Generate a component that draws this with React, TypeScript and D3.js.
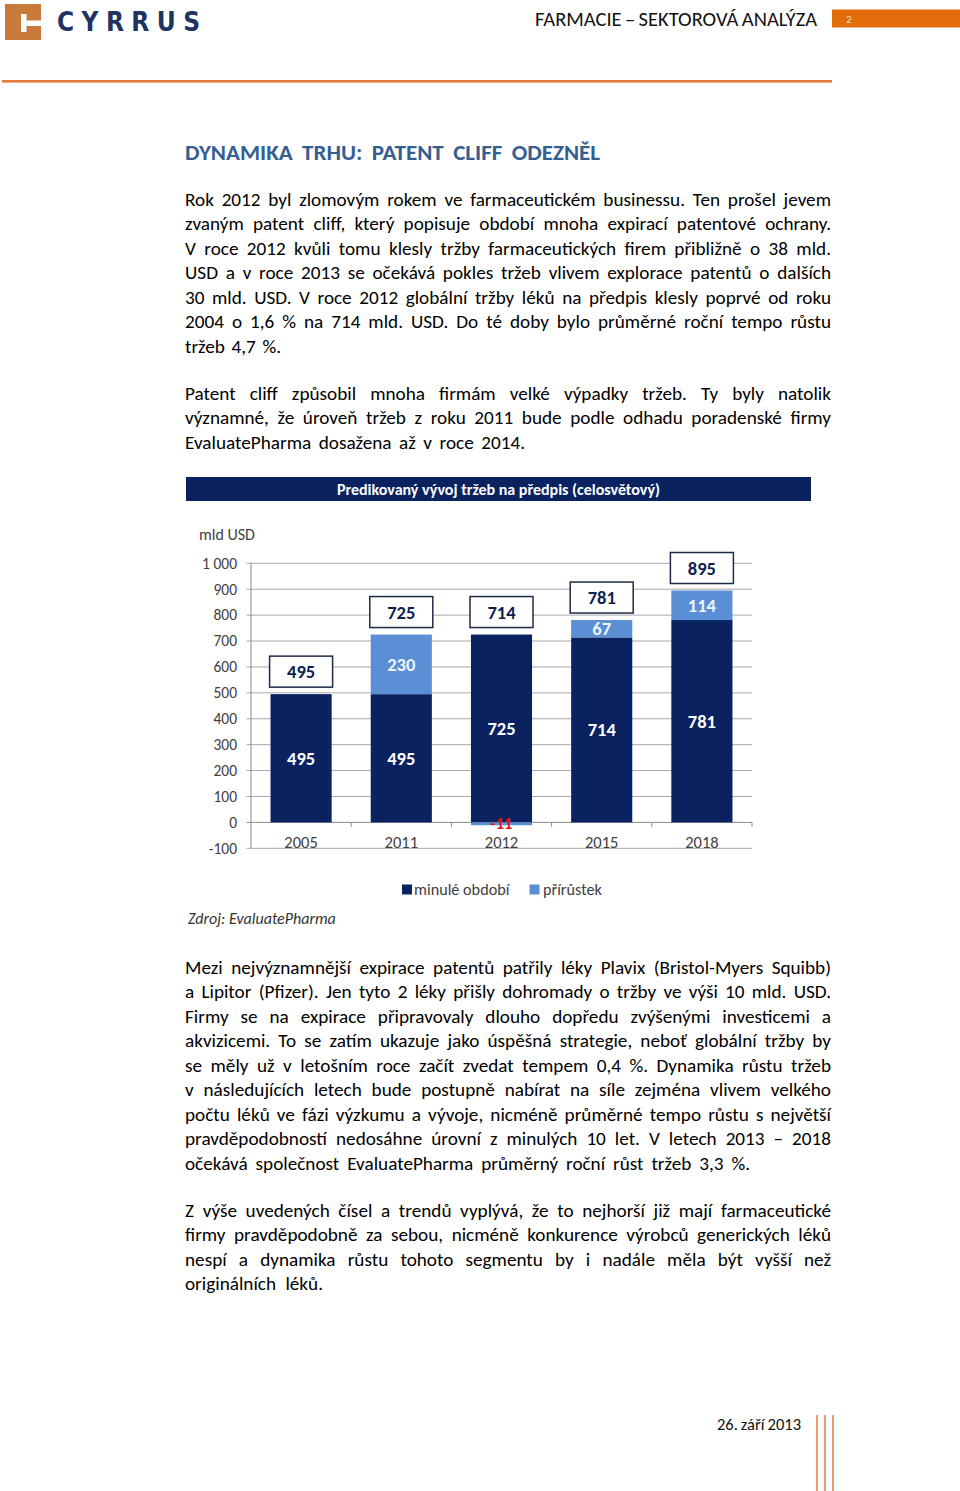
import React, { useLayoutEffect, useRef } from 'react';
import * as d3 from 'd3';

// ---------- chart data ----------
const years = ['2005', '2011', '2012', '2015', '2018'];
const pastValues = [495, 495, 725, 714, 781];
const increments = [0, 230, -11, 67, 114];
const totals = [495, 725, 714, 781, 895];
const yTicks = [-100, 0, 100, 200, 300, 400, 500, 600, 700, 800, 900, 1000];
const legendLabels = ['minulé období', 'přírůstek'];
const chartTitle = 'Predikovaný vývoj tržeb na předpis (celosvětový)';
const unitLabel = 'mld USD';
const sourceLabel = 'Zdroj: EvaluatePharma';

// ---------- page text ----------
const headerTitle = 'FARMACIE – SEKTOROVÁ ANALÝZA';
const pageNumber = '2';
const heading = 'DYNAMIKA TRHU: PATENT CLIFF ODEZNĚL';
const footerDate = '26. září 2013';

const para1 = [
  'Rok 2012 byl zlomovým rokem ve farmaceutickém businessu. Ten prošel jevem',
  'zvaným patent cliff, který popisuje období mnoha expirací patentové ochrany.',
  'V roce 2012 kvůli tomu klesly tržby farmaceutických firem přibližně o 38 mld.',
  'USD a v roce 2013 se očekává pokles tržeb vlivem explorace patentů o dalších',
  '30 mld. USD. V roce 2012 globální tržby léků na předpis klesly poprvé od roku',
  '2004 o 1,6 % na 714 mld. USD. Do té doby bylo průměrné roční tempo růstu',
  'tržeb 4,7 %.',
];
const para2 = [
  'Patent cliff způsobil mnoha firmám velké výpadky tržeb. Ty byly natolik',
  'významné, že úroveň tržeb z roku 2011 bude podle odhadu poradenské firmy',
  'EvaluatePharma dosažena až v roce 2014.',
];
const para3 = [
  'Mezi nejvýznamnější expirace patentů patřily léky Plavix (Bristol-Myers Squibb)',
  'a Lipitor (Pfizer). Jen tyto 2 léky přišly dohromady o tržby ve výši 10 mld. USD.',
  'Firmy se na expirace připravovaly dlouho dopředu zvýšenými investicemi a',
  'akvizicemi. To se zatím ukazuje jako úspěšná strategie, neboť globální tržby by',
  'se měly už v letošním roce začít zvedat tempem 0,4 %. Dynamika růstu tržeb',
  'v následujících letech bude postupně nabírat na síle zejména vlivem velkého',
  'počtu léků ve fázi výzkumu a vývoje, nicméně průměrné tempo růstu s největší',
  'pravděpodobností nedosáhne úrovní z minulých 10 let. V letech 2013 – 2018',
  'očekává společnost EvaluatePharma průměrný roční růst tržeb 3,3 %.',
];
const para4 = [
  'Z výše uvedených čísel a trendů vyplývá, že to nejhorší již mají farmaceutické',
  'firmy pravděpodobně za sebou, nicméně konkurence výrobců generických léků',
  'nespí a dynamika růstu tohoto segmentu by i nadále měla být vyšší než',
  'originálních léků.',
];

const FONT = 'Carlito, Calibri, Lato, "Open Sans", sans-serif';
const NAVY = '#0b2261';
const LIGHT = '#5a8fd5';

function fitText(el: SVGTextElement, target: number, text: string) {
  el.setAttribute('word-spacing', '0');
  el.removeAttribute('textLength');
  const natural = el.getComputedTextLength();
  const spaces = (text.match(/ /g) || []).length;
  if (spaces > 0) {
    const ws = (target - natural) / spaces;
    if (ws < -2.5) {
      el.setAttribute('textLength', String(target));
      el.setAttribute('lengthAdjust', 'spacingAndGlyphs');
    } else {
      el.setAttribute('word-spacing', String(ws));
    }
  } else {
    el.setAttribute('textLength', String(target));
    el.setAttribute('lengthAdjust', 'spacingAndGlyphs');
  }
}

function FitLine(props: { x: number; y: number; x2: number; text: string; size: number; weight?: string | number; fill?: string; style?: any }) {
  const ref = useRef<SVGTextElement>(null);
  useLayoutEffect(() => {
    const run = () => { if (ref.current) fitText(ref.current, props.x2 - props.x, props.text); };
    run();
    if ((document as any).fonts && (document as any).fonts.ready) (document as any).fonts.ready.then(run);
  }, [props.x, props.x2, props.text]);
  return (
    <text ref={ref} x={props.x} y={props.y} fontSize={props.size} fontWeight={props.weight || 'normal'}
      fill={props.fill || '#000'} fontFamily={FONT} style={props.style}>{props.text}</text>
  );
}

function Paragraph({ lines, top, lastEnd }: { lines: string[]; top: number; lastEnd: number }) {
  const lh = 24.55;
  return (
    <g>
      {lines.map((t, i) => (
        <FitLine key={i} x={185} y={top + i * lh} x2={i === lines.length - 1 ? lastEnd : 831} text={t} size={19.2} />
      ))}
    </g>
  );
}

function Chart() {
  const x = d3.scaleBand<string>().domain(years).range([251, 752]).paddingInner(0.39).paddingOuter(0.195);
  const y = d3.scaleLinear().domain([-100, 1000]).range([848.3, 563.3]);
  const rows = years.map((yr, i) => ({ year: yr, past: pastValues[i], inc: increments[i], total: totals[i] }));
  const stack = d3.stack<any>().keys(['past', 'inc']).offset(d3.stackOffsetDiverging);
  const series = stack(rows);
  const bw = x.bandwidth();
  const fmt = (v: number) => d3.format(',')(v).replace(/,/g, ' ').replace('−', '-');
  const boundaries = years.map((yr) => (x(yr) as number) + bw + (x.step() - bw) / 2);

  return (
    <g fontFamily={FONT}>
      {/* title bar */}
      <rect x={186} y={477} width={625} height={24} fill={NAVY} />
      <text x={498.5} y={494.5} textAnchor="middle" fill="#fff" fontSize={16} fontWeight="bold">{chartTitle}</text>
      <text x={199} y={539.5} fontSize={16} fill="#404040">{unitLabel}</text>

      {/* gridlines */}
      {yTicks.map((t) => (
        <g key={t}>
          <line x1={246.5} x2={752} y1={y(t)} y2={y(t)} stroke={t === 0 ? '#8a8a8a' : '#a8a8a8'} strokeWidth={1} />
          <text x={237} y={y(t) + 5.3} textAnchor="end" fontSize={15.5} fill="#404040">{fmt(t)}</text>
        </g>
      ))}
      <line x1={251} x2={251} y1={y(1000)} y2={y(-100)} stroke="#8a8a8a" strokeWidth={1} />
      {boundaries.map((bx, i) => (
        <line key={i} x1={bx} x2={bx} y1={y(0)} y2={y(0) + 4.5} stroke="#8a8a8a" strokeWidth={1} />
      ))}

      {/* bars */}
      {series.map((s, si) => (
        <g key={s.key} fill={si === 0 ? NAVY : LIGHT}>
          {s.map((d: any, i: number) => {
            const y0 = Math.min(y(d[0]), y(d[1]));
            const h = Math.abs(y(d[0]) - y(d[1]));
            if (h <= 0) return null;
            return <rect key={i} x={x(years[i])} y={y0} width={bw} height={h} />;
          })}
        </g>
      ))}

      {/* segment labels */}
      {series.map((s, si) => (
        <g key={'l' + s.key}>
          {s.map((d: any, i: number) => {
            const v = si === 0 ? pastValues[i] : increments[i];
            if (v === 0) return null;
            const cx = (x(years[i]) as number) + bw / 2;
            const cy = (y(d[0]) + y(d[1])) / 2;
            const neg = v < 0;
            const fill = si === 0 ? '#ffffff' : neg ? '#e8141b' : '#eef3fa';
            return (
              <text key={i} x={cx} y={neg ? cy + 5.5 : cy + 6.3} textAnchor="middle" fontSize={neg ? 16.5 : 18.5}
                fontWeight="bold" fill={fill}>{fmt(v)}</text>
            );
          })}
        </g>
      ))}

      {/* total boxes */}
      {rows.map((r, i) => {
        const top = Math.max(r.past, r.past + r.inc);
        const cx = (x(r.year) as number) + bw / 2;
        const by = y(top) - 7 - 31;
        return (
          <g key={'t' + i}>
            <rect x={cx - 31.5} y={by} width={63} height={31} fill="#fff" stroke="#1d2a4a" strokeWidth={1.5} />
            <text x={cx} y={by + 22} textAnchor="middle" fontSize={18.5} fontWeight="bold" fill="#0d1f4e">{fmt(r.total)}</text>
          </g>
        );
      })}

      {/* x labels */}
      {years.map((yr) => (
        <text key={yr} x={(x(yr) as number) + bw / 2} y={848} textAnchor="middle" fontSize={16.5} fill="#404040">{yr}</text>
      ))}

      {/* legend */}
      <rect x={402} y={884.5} width={10} height={10} fill={NAVY} />
      <text x={414} y={895} fontSize={16.2} fill="#404040">{legendLabels[0]}</text>
      <rect x={529.5} y={884.5} width={10} height={10} fill={LIGHT} />
      <text x={543} y={895} fontSize={16.2} fill="#404040">{legendLabels[1]}</text>

      <text x={188} y={923.5} fontSize={16} fontStyle="italic" fill="#333">{sourceLabel}</text>
    </g>
  );
}

export default function App() {
  return (
    <div style={{ position: 'absolute', left: 0, top: 0 }}>
      <svg width={960} height={1491} viewBox="0 0 960 1491" style={{ display: 'block', background: '#fff' }}>
        <rect x={0} y={0} width={960} height={1491} fill="#fff" />
        {/* header logo */}
        <rect x={5} y={4} width={36} height={36} fill="#c87a3a" />
        <rect x={21} y={14} width={5.5} height={18} fill="#fff" />
        <rect x={26} y={20.5} width={15} height={5.5} fill="#fff" />
        <FitLine x={57} y={31} x2={200} text={'C Y R R U S'} size={26} weight="bold" fill="#1f3363"
          style={{ fontFamily: '"DejaVu Sans Condensed", "DejaVu Sans", sans-serif' }} />
        <FitLine x={535} y={26} x2={817} text={headerTitle} size={20.5} fill="#111" />
        <rect x={832} y={9.5} width={128} height={18} fill="#e36c0a" />
        <text x={846} y={22.5} fontSize={11} fill="#fde0c8" fontFamily={FONT}>{pageNumber}</text>
        <rect x={2} y={80} width={830} height={2.6} fill="#e07b39" />

        <FitLine x={185} y={159.5} x2={600} text={heading} size={23} weight="bold" fill="#365f91" />

        <Paragraph lines={para1} top={205.5} lastEnd={281} />
        <Paragraph lines={para2} top={399.5} lastEnd={525} />

        <Chart />

        <Paragraph lines={para3} top={973.5} lastEnd={750} />
        <Paragraph lines={para4} top={1216.5} lastEnd={323} />

        {/* footer */}
        <FitLine x={717} y={1429.5} x2={801} text={footerDate} size={16.5} fill="#111" />
        {[817, 825, 833].map((lx) => (
          <line key={lx} x1={lx} x2={lx} y1={1415} y2={1491} stroke="#e07b39" strokeWidth={1.5} />
        ))}
      </svg>
    </div>
  );
}
